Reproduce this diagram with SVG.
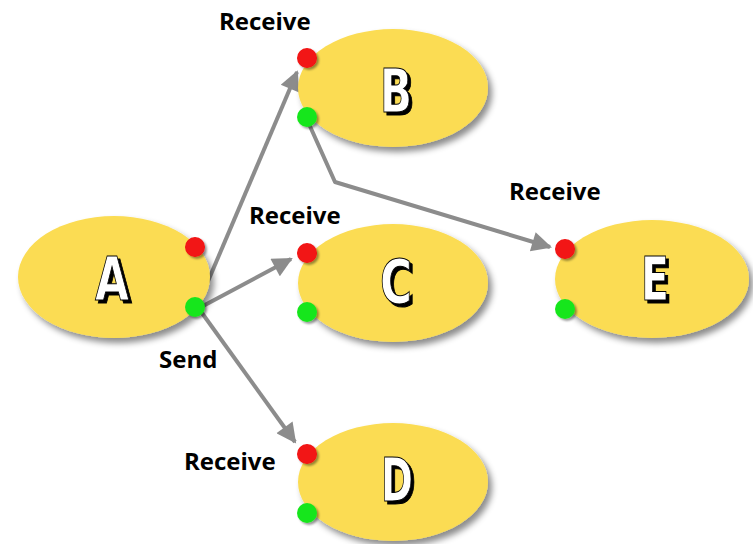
<svg xmlns="http://www.w3.org/2000/svg" width="753" height="544" viewBox="0 0 753 544">
  <defs>
    <filter id="shadow" x="-20%" y="-20%" width="150%" height="150%">
      <feDropShadow dx="4" dy="5" stdDeviation="3" flood-color="#000" flood-opacity="0.45"/>
    </filter>
    <filter id="dotShadow" x="-50%" y="-50%" width="200%" height="200%">
      <feDropShadow dx="2" dy="2" stdDeviation="1.2" flood-color="#000" flood-opacity="0.4"/>
    </filter>
    <filter id="letterShadow" x="-30%" y="-30%" width="160%" height="160%">
      <feDropShadow dx="3" dy="3" stdDeviation="0.3" flood-color="#000" flood-opacity="1"/>
    </filter>
    <marker id="arrow" viewBox="0 0 10 10" refX="9" refY="5" markerWidth="5.5" markerHeight="5" markerUnits="strokeWidth" orient="auto">
      <path d="M0,0 L10,5 L0,10 Z" fill="#8c8c8c"/>
    </marker>
    <style>
      .node { fill: #fbdc52; filter: url(#shadow); }
      .red { fill: #f21212; filter: url(#dotShadow); }
      .green { fill: #18e61c; filter: url(#dotShadow); }
      .letter { font-family: "DejaVu Sans", sans-serif; font-weight: bold; font-size: 60px; text-anchor: middle; fill: #fff; stroke: #000; stroke-width: 1; filter: url(#letterShadow); }
      .label { font-family: "Open Sans", "Liberation Sans", sans-serif; font-weight: bold; font-size: 24px; fill: #000; }
      .edge { fill: none; stroke: #8c8c8c; stroke-width: 4; stroke-linejoin: round; marker-end: url(#arrow); }
    </style>
  </defs>

  <!-- connectors -->
  <g id="connectors">
    <path class="edge" d="M200,300 L297,72"/>
    <path class="edge" d="M203,306 L291,259"/>
    <path class="edge" d="M202,313 L295,442"/>
    <path class="edge" d="M309,124 L335,182 L550,247"/>
  </g>

  <!-- node A -->
  <g id="node-a">
    <ellipse class="node" cx="114" cy="277" rx="96" ry="61"/>
    <circle class="red" cx="195" cy="247" r="10"/>
    <circle class="green" cx="195" cy="307" r="10"/>
    <text class="letter" x="112" y="300" textLength="34" lengthAdjust="spacingAndGlyphs">A</text>
    <text class="label" x="159" y="368">Send</text>
  </g>

  <!-- node B -->
  <g id="node-b">
    <ellipse class="node" cx="393" cy="88" rx="95" ry="59"/>
    <circle class="red" cx="307" cy="58" r="10"/>
    <circle class="green" cx="307" cy="117" r="10"/>
    <text class="letter" x="396" y="112" textLength="32" lengthAdjust="spacingAndGlyphs">B</text>
    <text class="label" x="219" y="30">Receive</text>
  </g>

  <!-- node C -->
  <g id="node-c">
    <ellipse class="node" cx="393" cy="283" rx="95" ry="59"/>
    <circle class="red" cx="307" cy="253" r="10"/>
    <circle class="green" cx="307" cy="312" r="10"/>
    <text class="letter" x="396" y="303" textLength="32" lengthAdjust="spacingAndGlyphs">C</text>
    <text class="label" x="249" y="224">Receive</text>
  </g>

  <!-- node D -->
  <g id="node-d">
    <ellipse class="node" cx="393" cy="482" rx="95" ry="59"/>
    <circle class="red" cx="307" cy="454" r="10"/>
    <circle class="green" cx="307" cy="513" r="10"/>
    <text class="letter" x="397" y="501" textLength="32" lengthAdjust="spacingAndGlyphs">D</text>
    <text class="label" x="184" y="470">Receive</text>
  </g>

  <!-- node E -->
  <g id="node-e">
    <ellipse class="node" cx="652" cy="279" rx="97" ry="59"/>
    <circle class="red" cx="565" cy="249" r="10"/>
    <circle class="green" cx="565" cy="309" r="10"/>
    <text class="letter" x="655" y="300" textLength="28" lengthAdjust="spacingAndGlyphs">E</text>
    <text class="label" x="509" y="200">Receive</text>
  </g>
</svg>
